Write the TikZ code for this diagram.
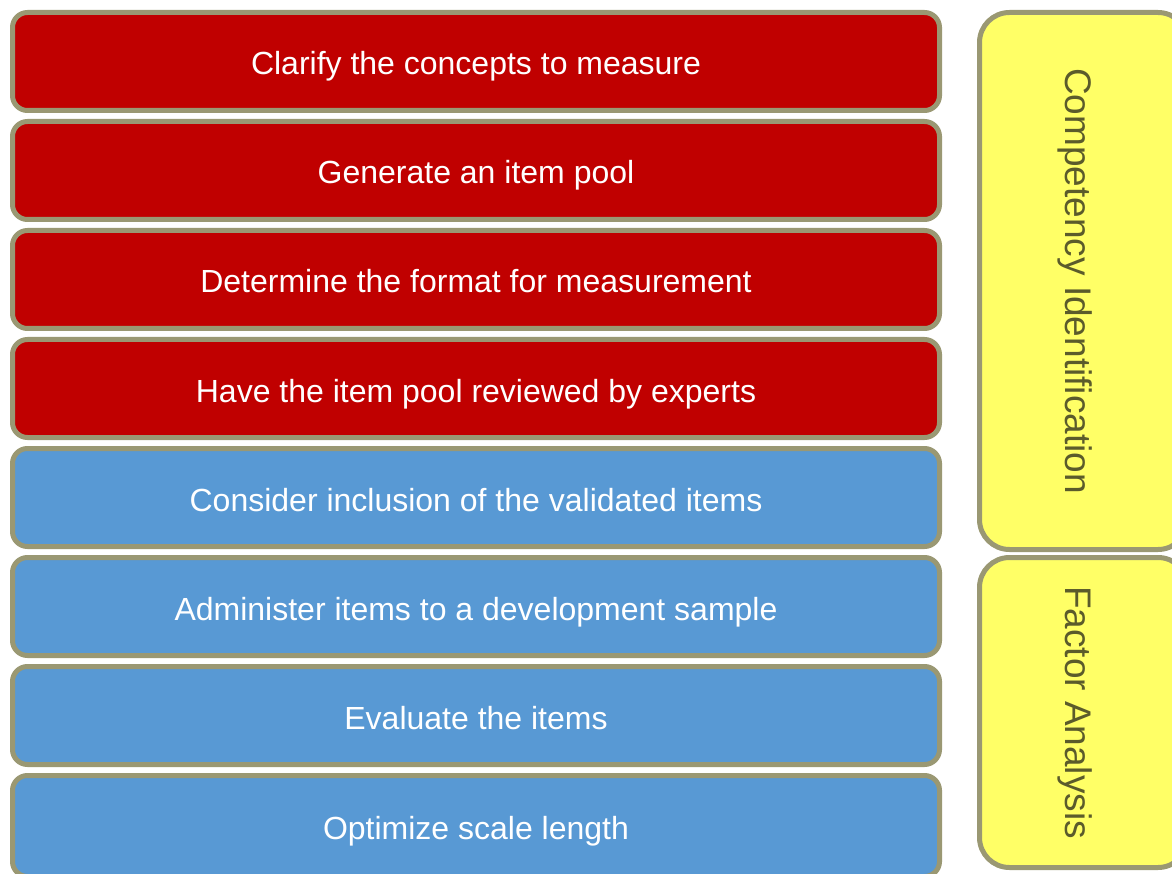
\documentclass[tikz,border=0pt]{standalone}
\usepackage{fontspec}
\setmainfont{Liberation Sans}
\definecolor{stepred}{HTML}{C00000}
\definecolor{stepblue}{HTML}{5899D4}
\definecolor{phaseyellow}{HTML}{FFFF66}
\definecolor{rimgray}{HTML}{9A9873}
\definecolor{phasetext}{HTML}{5B5B2B}
\tikzset{
  stepbox/.style={draw=rimgray, line width=5pt, rounded corners=15pt,
    minimum width=927pt, minimum height=98pt, inner sep=0pt,
    text=white, font=\fontsize{32}{38}\selectfont,
    text height=27pt, text depth=0pt},
  redbox/.style={stepbox, fill=stepred},
  bluebox/.style={stepbox, fill=stepblue},
  phasebox/.style={draw=rimgray, fill=phaseyellow, line width=5pt,
    rounded corners=30pt, minimum width=208.5pt, inner sep=0pt},
  phaselabel/.style={text=phasetext, font=\fontsize{37}{44}\selectfont,
    rotate=-90, anchor=base, inner sep=0pt}
}
\begin{document}
\begin{tikzpicture}[x=1pt,y=-1pt]
\useasboundingbox (0,0) rectangle (1172,874);
\node[redbox]  (s1) at (476,61.5)  {Clarify the concepts to measure};
\node[redbox]  (s2) at (476,170.5) {Generate an item pool};
\node[redbox]  (s3) at (476,279.5) {Determine the format for measurement};
\node[redbox]  (s4) at (476,388.5) {Have the item pool reviewed by experts};
\node[bluebox] (s5) at (476,497.5) {Consider inclusion of the validated items};
\node[bluebox] (s6) at (476,606.5) {Administer items to a development sample};
\node[bluebox] (s7) at (476,715.5) {Evaluate the items};
\node[bluebox, minimum height=101pt] (s8) at (476,826) {Optimize scale length};
\node[phasebox, minimum height=537pt] (p1) at (1083.75,281) {};
\node[phasebox, minimum height=310pt] (p2) at (1083.75,712.5) {};
\node[phaselabel] (t1) at (1065,281) {Competency Identification};
\node[phaselabel] (t2) at (1065,712.5) {Factor Analysis};
\end{tikzpicture}
\end{document}
